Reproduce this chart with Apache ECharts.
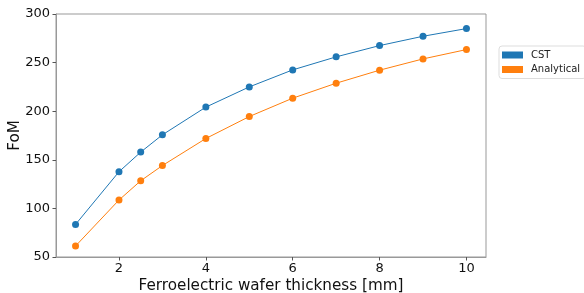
<!DOCTYPE html>
<html>
<head>
<meta charset="utf-8">
<script src="https://cdn.jsdelivr.net/npm/echarts@6/dist/echarts.min.js"></script>
<style>
  html, body { margin: 0; padding: 0; background: #fff; }
  #chart { width: 584px; height: 293px; }
</style>
</head>
<body>
<div id="chart"></div>
<script>
  // wafer thickness [mm]
  var thickness = [1, 2, 2.5, 3, 4, 5, 6, 7, 8, 9, 10];
  var cst = [83.5, 137.7, 157.9, 175.7, 204.2, 225, 242.5, 255.9, 267.5, 277.1, 285];
  var analytical = [61.3, 108.6, 128.4, 144.1, 171.9, 194.5, 213.4, 228.8, 242.2, 253.8, 263.4];
  var xTicks = [2, 4, 6, 8, 10];

  function pairs(ys) {
    return thickness.map(function (x, i) { return [x, ys[i]]; });
  }

  var font = 'DejaVu Sans';
  var chart = echarts.init(document.getElementById('chart'));
  chart.setOption({
    animation: false,
    textStyle: { fontFamily: font },
    grid: {
      left: 56, right: 98, top: 14, bottom: 36,
      outerBoundsMode: 'none',
      show: true, borderColor: '#999', borderWidth: 1
    },
    legend: {
      left: 499, top: 46,
      orient: 'vertical',
      itemWidth: 21, itemHeight: 7, itemGap: 4.5,
      icon: 'rect',
      padding: [4, 6, 4, 3],
      borderColor: '#ddd', borderWidth: 1, borderRadius: 3,
      textStyle: { fontSize: 10, color: '#222', fontFamily: font, padding: [0, 0, 0, 3] },
      data: ['CST', 'Analytical']
    },
    xAxis: {
      type: 'value',
      min: 0.55, max: 10.45,
      name: 'Ferroelectric wafer thickness [mm]',
      nameLocation: 'middle', nameGap: 21.5, nameMoveOverlap: false,
      nameTextStyle: { fontSize: 15.2, color: '#111' },
      axisLine: { show: true, lineStyle: { color: '#999' } },
      axisTick: { show: true, customValues: xTicks, length: 3.5, lineStyle: { color: '#555' } },
      splitLine: { show: false },
      axisLabel: { customValues: xTicks, fontSize: 13, color: '#111', margin: 5 }
    },
    yAxis: {
      type: 'value',
      min: 50, max: 300, interval: 50,
      name: 'FoM',
      nameLocation: 'middle', nameGap: 33, nameMoveOverlap: false,
      nameTextStyle: { fontSize: 15.2, color: '#111' },
      axisLine: { show: true, lineStyle: { color: '#999' } },
      axisTick: { show: true, length: 3.5, lineStyle: { color: '#555' } },
      splitLine: { show: false },
      axisLabel: { fontSize: 13, color: '#111', margin: 6 }
    },
    series: [
      {
        name: 'CST', type: 'line', data: pairs(cst),
        color: '#1f77b4', symbol: 'circle', symbolSize: 7,
        lineStyle: { width: 1 }
      },
      {
        name: 'Analytical', type: 'line', data: pairs(analytical),
        color: '#ff7f0e', symbol: 'circle', symbolSize: 7,
        lineStyle: { width: 1 }
      }
    ]
  });
</script>
</body>
</html>
